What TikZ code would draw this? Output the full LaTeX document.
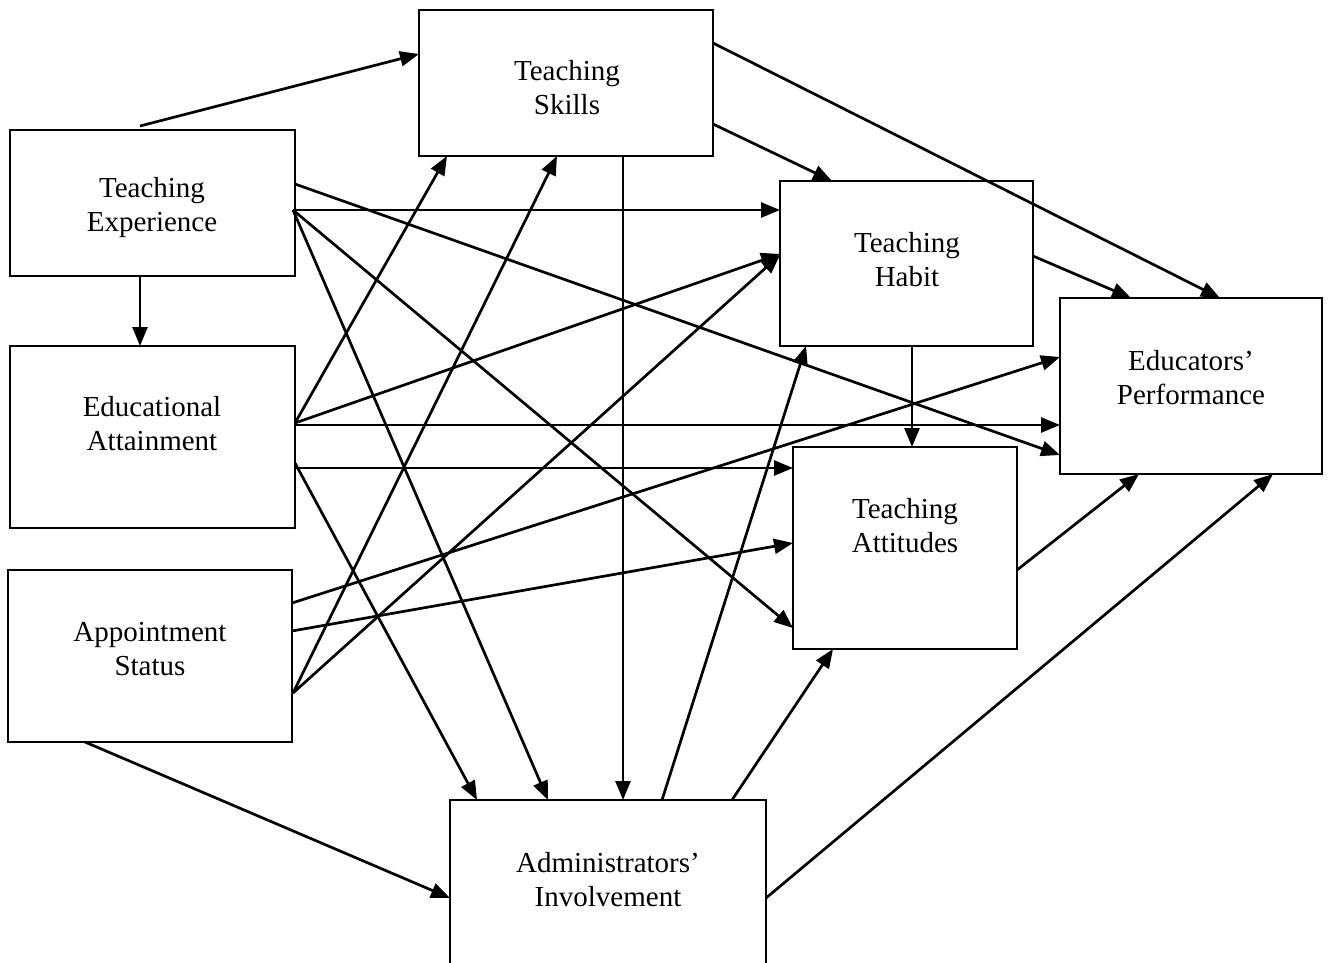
\documentclass[tikz,border=0pt]{standalone}
\usepackage{fontspec}
\setmainfont{Liberation Serif}
\usetikzlibrary{arrows.meta,calc}
\begin{document}
\begin{tikzpicture}[x=1pt,y=-1pt,
  box/.style={draw=black,line width=2.2pt,rectangle,anchor=north west,inner sep=0pt,outer sep=0pt},
  lbl/.style={align=center,font=\fontsize{29}{34}\selectfont,inner sep=0pt},
  link/.style={line width=2.7pt,-{Triangle[length=19pt,width=15pt]}}]
\useasboundingbox (0,0) rectangle (1330,963);
\clip (0,0) rectangle (1330,963);

% boxes
\node[box,minimum width=285pt,minimum height=146pt] (te) at (10,130) {};
\node[box,minimum width=294pt,minimum height=146pt] (ts) at (419,10) {};
\node[box,minimum width=285pt,minimum height=182pt] (ea) at (10,346) {};
\node[box,minimum width=284pt,minimum height=172pt] (as) at (8,570) {};
\node[box,minimum width=253pt,minimum height=165pt] (th) at (780,181) {};
\node[box,minimum width=262pt,minimum height=176pt] (ep) at (1060,298) {};
\node[box,minimum width=224pt,minimum height=202pt] (ta) at (793,447) {};
\node[box,minimum width=316pt,minimum height=200pt] (ai) at (450,800) {};

% labels
\node[lbl] (te-l) at (152,208) {Teaching\\Experience};
\node[lbl] (ts-l) at (567,88) {Teaching\\Skills};
\node[lbl] (ea-l) at (152,424) {Educational\\Attainment};
\node[lbl] (as-l) at (150,649) {Appointment\\Status};
\node[lbl] (th-l) at (907,260) {Teaching\\Habit};
\node[lbl] (ep-l) at (1191,378) {Educators’\\Performance};
\node[lbl] (ta-l) at (905,526) {Teaching\\Attitudes};
\node[lbl] (ai-l) at (608,880) {Administrators’\\Involvement};

% from Teaching Experience
\draw[link] ($(te.north west)+(130,-4)$) -- ($(ts.north west)+(0,44)$);
\draw[link] ($(te.north west)+(130,146)$) -- ($(ea.north west)+(130,0)$);
\draw[link] ($(te.north west)+(285,54)$) -- ($(ep.north west)+(0,157)$);
\draw[link] ($(te.north west)+(283,80)$) -- ($(th.north west)+(0,29)$);
\draw[link] ($(te.north west)+(283,80)$) -- ($(ai.north west)+(98,0)$);
\draw[link] ($(te.north west)+(283,80)$) -- ($(ta.north west)+(0,181)$);

% from Teaching Skills
\draw[link] ($(ts.north west)+(294,33)$) -- ($(ep.north west)+(160,0)$);
\draw[link] ($(ts.north west)+(294,114)$) -- ($(th.north west)+(52,0)$);
\draw[link] ($(ts.north west)+(204,146)$) -- ($(ai.north west)+(173,0)$);

% from Educational Attainment
\draw[link] ($(ea.north west)+(285,77)$) -- ($(ts.north west)+(28,146)$);
\draw[link] ($(ea.north west)+(285,77)$) -- ($(th.north west)+(0,73)$);
\draw[link] ($(ea.north west)+(285,79)$) -- ($(ep.north west)+(0,127)$);
\draw[link] ($(ea.north west)+(285,122)$) -- ($(ta.north west)+(0,21)$);
\draw[link] ($(ea.north west)+(285,117)$) -- ($(ai.north west)+(27,0)$);

% from Appointment Status
\draw[link] ($(as.north west)+(284,33)$) -- ($(ep.north west)+(0,59)$);
\draw[link] ($(as.north west)+(284,61)$) -- ($(ta.north west)+(0,96)$);
\draw[link] ($(as.north west)+(285,123)$) -- ($(ts.north west)+(138,146)$);
\draw[link] ($(as.north west)+(285,123)$) -- ($(th.north west)+(0,74)$);
\draw[link] ($(as.north west)+(77,172)$) -- ($(ai.north west)+(0,98)$);

% from Administrators' Involvement
\draw[link] ($(ai.north west)+(212,0)$) -- ($(th.north west)+(26,165)$);
\draw[link] ($(ai.north west)+(282,0)$) -- ($(ta.north west)+(40,202)$);
\draw[link] ($(ai.north west)+(316,98)$) -- ($(ep.north west)+(213,176)$);

% from Teaching Habit and Teaching Attitudes
\draw[link] ($(th.north west)+(132,165)$) -- ($(ta.north west)+(119,0)$);
\draw[link] ($(th.north west)+(253,75)$) -- ($(ep.north west)+(71,0)$);
\draw[link] ($(ta.north west)+(224,123)$) -- ($(ep.north west)+(79,176)$);
\end{tikzpicture}
\end{document}
